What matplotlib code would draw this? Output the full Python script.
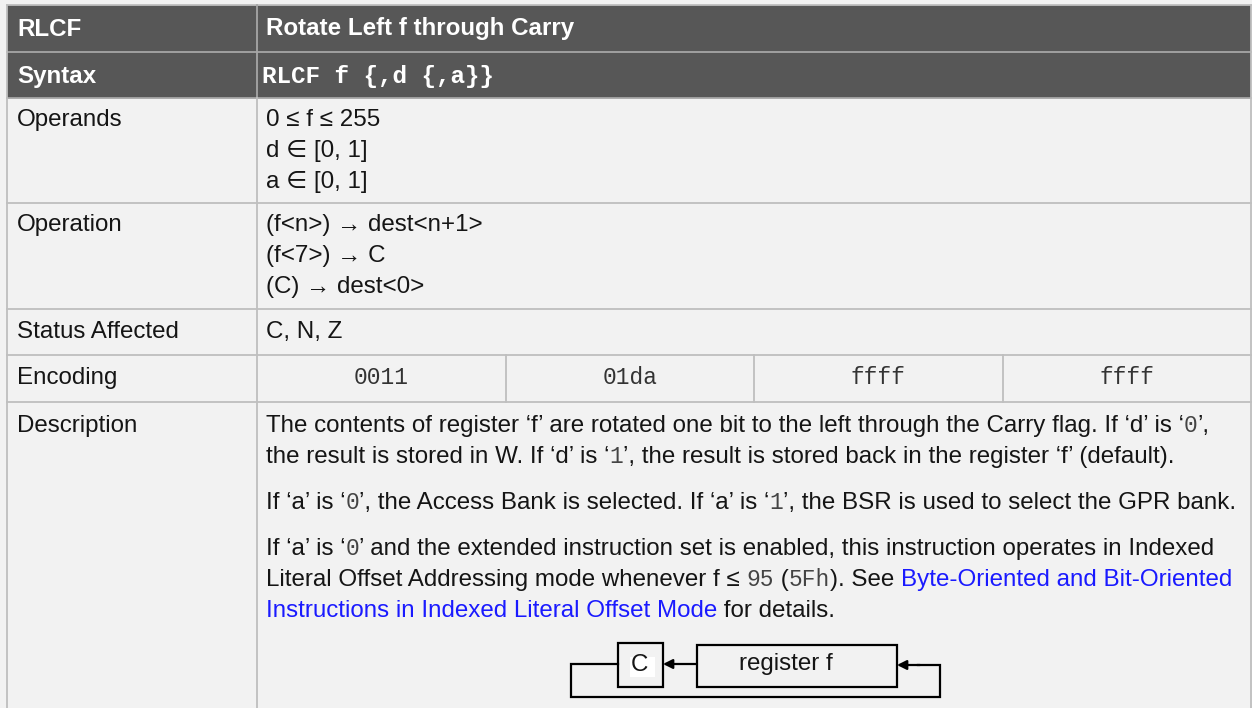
import matplotlib
matplotlib.use("Agg")
import matplotlib.pyplot as plt
from matplotlib.patches import Rectangle

W, H = 1252, 708

# ---- table content ----
title_key = "RLCF"
title_text = "Rotate Left f through Carry"
syntax_key = "Syntax"
syntax_text = "RLCF f {,d {,a}}"
row_labels = ["Operands", "Operation", "Status Affected", "Encoding", "Description"]
operands = ["0 ≤ f ≤ 255", "d ∈ [0, 1]", "a ∈ [0, 1]"]
operation = ["(f<n>) → dest<n+1>", "(f<7>) → C", "(C) → dest<0>"]
status = ["C, N, Z"]
encoding = ["0011", "01da", "ffff", "ffff"]
# description paragraphs -> lines -> runs of (text, style); n normal, m mono, l link
description = [
    [[("The contents of register ‘f’ are rotated one bit to the left through the Carry flag. If ‘d’ is ‘", "n"), ("0", "m"), ("’,", "n")],
     [("the result is stored in W. If ‘d’ is ‘", "n"), ("1", "m"), ("’, the result is stored back in the register ‘f’ (default).", "n")]],
    [[("If ‘a’ is ‘", "n"), ("0", "m"), ("’, the Access Bank is selected. If ‘a’ is ‘", "n"), ("1", "m"),
      ("’, the BSR is used to select the GPR bank.", "n")]],
    [[("If ‘a’ is ‘", "n"), ("0", "m"), ("’ and the extended instruction set is enabled, this instruction operates in Indexed", "n")],
     [("Literal Offset Addressing mode whenever f ≤ ", "n"), ("95", "m"), (" (", "n"), ("5Fh", "m"), ("). See ", "n"),
      ("Byte-Oriented and Bit-Oriented", "l")],
     [("Instructions in Indexed Literal Offset Mode", "l"), (" for details.", "n")]],
]
diagram_labels = ["C", "register f"]

# ---- layout ----
row_edges = [5, 52, 98, 203, 309, 355, 402, 712]
x_left, x_mid, x_right = 7, 257, 1251
pad1, pad2 = 17, 266
line_h = 31
para_gap = 15

header_bg = "#575757"
body_bg = "#f2f2f2"
grid_c = "#bfbfbf"
text_c = "#151515"
link_c = "#1a1aff"
sans = ["Liberation Sans", "DejaVu Sans"]
mono = ["Liberation Mono", "DejaVu Sans Mono"]
fs = 17.4

fig = plt.figure(figsize=(W / 100, H / 100), dpi=100, facecolor=body_bg)
ax = fig.add_axes([0, 0, 1, 1])
ax.set_xlim(0, W)
ax.set_ylim(H, 0)
ax.axis("off")

# backgrounds
ax.add_patch(Rectangle((x_left, row_edges[0]), x_right - x_left, row_edges[2] - row_edges[0],
                       facecolor=header_bg, edgecolor="none"))
ax.add_patch(Rectangle((x_left, row_edges[2]), x_right - x_left, row_edges[-1] - row_edges[2],
                       facecolor=body_bg, edgecolor="none"))

# grid
for i, y in enumerate(row_edges[:-1]):
    c = "#a6a6a6" if i in (1, 2) else grid_c
    ax.plot([x_left, x_right], [y, y], color=c, lw=1.3)
ax.plot([x_left, x_left], [row_edges[0], H], color=grid_c, lw=1.3)
ax.plot([x_right, x_right], [row_edges[0], H], color=grid_c, lw=1.3)
ax.plot([x_mid, x_mid], [row_edges[0], row_edges[2]], color="#a6a6a6", lw=1.3)
ax.plot([x_mid, x_mid], [row_edges[2], H], color=grid_c, lw=1.3)
cw = (x_right - x_mid) / len(encoding)
for k in range(1, len(encoding)):
    xx = x_mid + k * cw
    ax.plot([xx, xx], [row_edges[5], row_edges[6]], color=grid_c, lw=1.3)

# header
ax.text(pad1, 35.5, title_key, family=sans, size=fs, weight="bold", color="white", va="baseline")
ax.text(pad2, 35.5, title_text, family=sans, size=fs, weight="bold", color="white", va="baseline")
ax.text(pad1, 82.5, syntax_key, family=sans, size=fs, weight="bold", color="white", va="baseline")
ax.text(pad2 - 4, 82.5, syntax_text, family=mono, size=17.5, weight="bold", color="white", va="baseline")

# left labels
first_base = [126, 231, 338, 384, 432]
for lab, yb in zip(row_labels, first_base):
    ax.text(pad1, yb, lab, family=sans, size=fs, color=text_c, va="baseline")

for k, s in enumerate(operands):
    ax.text(pad2, first_base[0] + k * line_h, s, family=sans, size=fs, color=text_c, va="baseline")
for k, s in enumerate(operation):
    ax.text(pad2, first_base[1] + k * line_h, s, family=sans, size=fs, color=text_c, va="baseline")
ax.text(pad2, first_base[2], status[0], family=sans, size=fs, color=text_c, va="baseline")
for k, s in enumerate(encoding):
    ax.text(x_mid + (k + 0.5) * cw, first_base[3], s, family=mono, size=16.5, color="#333333",
            ha="center", va="baseline")

# description with inline runs
fig.canvas.draw()
rend = fig.canvas.get_renderer()
styles = {
    "n": dict(family=sans, size=fs, color=text_c),
    "m": dict(family=mono, size=16.5, color="#444444"),
    "l": dict(family=sans, size=fs, color=link_c),
}


def run_width(s, st):
    a = ax.text(0, 0, "|" + s + "|", **styles[st])
    b = ax.text(0, 0, "||", **styles[st])
    w = a.get_window_extent(rend).width - b.get_window_extent(rend).width
    a.remove()
    b.remove()
    return w


y = first_base[4]
for p, para in enumerate(description):
    if p > 0:
        y += para_gap
    for line in para:
        x = pad2
        for s, st in line:
            ax.text(x, y, s, va="baseline", **styles[st])
            x += run_width(s, st)
        y += line_h

# rotate-through-carry diagram
lw = 1.6
c_box = (618, 643, 45, 44)
r_box = (697, 645, 200, 42)
ax.add_patch(Rectangle(c_box[:2], c_box[2], c_box[3], facecolor="none", edgecolor="black", lw=lw))
ax.add_patch(Rectangle(r_box[:2], r_box[2], r_box[3], facecolor="none", edgecolor="black", lw=lw))
ax.add_patch(Rectangle((630, 657), 25, 20, facecolor="white", edgecolor="none"))
ax.text(639, 665, diagram_labels[0], family=sans, size=fs, color=text_c, ha="center", va="center")
ax.text(786, 664, diagram_labels[1], family=sans, size=fs, color=text_c, ha="center", va="center")
ax.plot([618, 571, 571, 940, 940, 918], [664, 664, 697, 697, 665, 665], color="black", lw=lw,
        solid_joinstyle="miter")
ap = dict(arrowstyle="-|>", color="black", lw=lw, mutation_scale=14, shrinkA=0, shrinkB=0)
ax.annotate("", xy=(897, 665), xytext=(920, 665), arrowprops=ap)
ax.annotate("", xy=(663, 664), xytext=(697, 664), arrowprops=ap)

fig.savefig("out.png", dpi=100, facecolor=body_bg)
